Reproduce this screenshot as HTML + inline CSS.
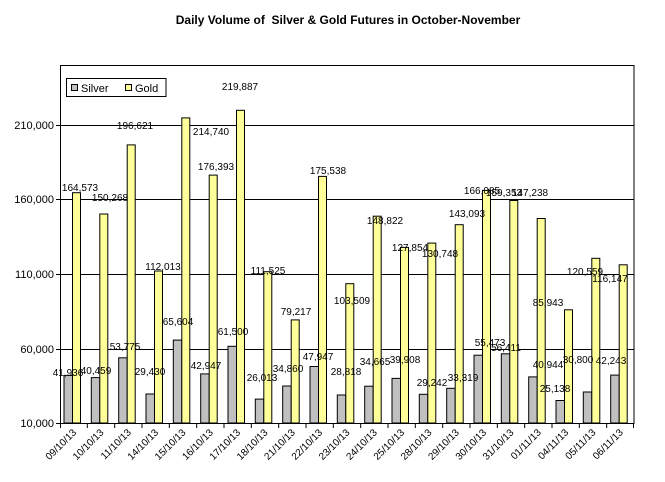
<!DOCTYPE html>
<html><head><meta charset="utf-8"><style>
html,body{margin:0;padding:0;background:#fff;}
svg{display:block;font-family:"Liberation Sans",Arial,sans-serif;}
</style></head><body>
<svg width="665" height="482" viewBox="0 0 665 482" xmlns="http://www.w3.org/2000/svg">
<rect width="665" height="482" fill="#fff"/>
<text x="348" y="24" font-size="12" font-weight="bold" text-anchor="middle" xml:space="preserve">Daily Volume of  Silver &amp; Gold Futures in October-November</text>
<g stroke="#000" stroke-width="1">
<line x1="60" y1="125.5" x2="634" y2="125.5"/>
<line x1="60" y1="199.5" x2="634" y2="199.5"/>
<line x1="60" y1="274.5" x2="634" y2="274.5"/>
<line x1="60" y1="349.5" x2="634" y2="349.5"/>
<rect x="60.5" y="65.5" width="573.5" height="358" fill="none"/>
</g>
<g stroke="#000" stroke-width="1">
<rect x="64" y="375.4" width="8.5" height="47.6" fill="#c0c0c0"/><rect x="72.5" y="192.7" width="8" height="230.3" fill="#ffff99"/>
<rect x="91.3" y="377.6" width="8.5" height="45.4" fill="#c0c0c0"/><rect x="99.8" y="214" width="8" height="209" fill="#ffff99"/>
<rect x="118.7" y="357.8" width="8.5" height="65.2" fill="#c0c0c0"/><rect x="127.2" y="144.9" width="8" height="278.1" fill="#ffff99"/>
<rect x="146" y="394" width="8.5" height="29" fill="#c0c0c0"/><rect x="154.5" y="271" width="8" height="152" fill="#ffff99"/>
<rect x="173.3" y="340.1" width="8.5" height="82.9" fill="#c0c0c0"/><rect x="181.8" y="117.9" width="8" height="305.1" fill="#ffff99"/>
<rect x="200.7" y="373.9" width="8.5" height="49.1" fill="#c0c0c0"/><rect x="209.2" y="175.1" width="8" height="247.9" fill="#ffff99"/>
<rect x="228" y="346.3" width="8.5" height="76.7" fill="#c0c0c0"/><rect x="236.5" y="110.3" width="8" height="312.7" fill="#ffff99"/>
<rect x="255.3" y="399.1" width="8.5" height="23.9" fill="#c0c0c0"/><rect x="263.8" y="271.7" width="8" height="151.3" fill="#ffff99"/>
<rect x="282.7" y="386" width="8.5" height="37" fill="#c0c0c0"/><rect x="291.2" y="319.9" width="8" height="103.1" fill="#ffff99"/>
<rect x="310" y="366.5" width="8.5" height="56.5" fill="#c0c0c0"/><rect x="318.5" y="176.4" width="8" height="246.6" fill="#ffff99"/>
<rect x="337.3" y="395" width="8.5" height="28" fill="#c0c0c0"/><rect x="345.8" y="283.7" width="8" height="139.3" fill="#ffff99"/>
<rect x="364.7" y="386.2" width="8.5" height="36.8" fill="#c0c0c0"/><rect x="373.2" y="216.2" width="8" height="206.8" fill="#ffff99"/>
<rect x="392" y="378.4" width="8.5" height="44.6" fill="#c0c0c0"/><rect x="400.5" y="247.4" width="8" height="175.6" fill="#ffff99"/>
<rect x="419.3" y="394.3" width="8.5" height="28.7" fill="#c0c0c0"/><rect x="427.8" y="243.1" width="8" height="179.9" fill="#ffff99"/>
<rect x="446.7" y="388.3" width="8.5" height="34.7" fill="#c0c0c0"/><rect x="455.2" y="224.7" width="8" height="198.3" fill="#ffff99"/>
<rect x="474" y="355.2" width="8.5" height="67.8" fill="#c0c0c0"/><rect x="482.5" y="190.4" width="8" height="232.6" fill="#ffff99"/>
<rect x="501.3" y="353.8" width="8.5" height="69.2" fill="#c0c0c0"/><rect x="509.8" y="200.5" width="8" height="222.5" fill="#ffff99"/>
<rect x="528.7" y="376.9" width="8.5" height="46.1" fill="#c0c0c0"/><rect x="537.2" y="218.5" width="8" height="204.5" fill="#ffff99"/>
<rect x="556" y="400.5" width="8.5" height="22.5" fill="#c0c0c0"/><rect x="564.5" y="309.8" width="8" height="113.2" fill="#ffff99"/>
<rect x="583.3" y="392" width="8.5" height="31" fill="#c0c0c0"/><rect x="591.8" y="258.3" width="8" height="164.7" fill="#ffff99"/>
<rect x="610.7" y="375.1" width="8.5" height="47.9" fill="#c0c0c0"/><rect x="619.2" y="264.8" width="8" height="158.2" fill="#ffff99"/>
</g>
<g stroke="#000">
<line x1="56" y1="423.5" x2="60" y2="423.5"/><line x1="56" y1="349.5" x2="60" y2="349.5"/><line x1="56" y1="274.5" x2="60" y2="274.5"/><line x1="56" y1="199.5" x2="60" y2="199.5"/><line x1="56" y1="125.5" x2="60" y2="125.5"/>
<path d="M60.5 423v5M87.3 423v5M114.7 423v5M142 423v5M169.3 423v5M196.7 423v5M224 423v5M251.3 423v5M278.7 423v5M306 423v5M333.3 423v5M360.7 423v5M388 423v5M415.3 423v5M442.7 423v5M470 423v5M497.3 423v5M524.7 423v5M552 423v5M579.3 423v5M606.7 423v5M633.5 423v5"/>
</g>
<g font-size="11" text-anchor="end">
<text x="54" y="427">10,000</text><text x="54" y="353">60,000</text><text x="54" y="278">110,000</text><text x="54" y="203">160,000</text><text x="54" y="129">210,000</text>
</g>
<g font-size="10" text-anchor="end">
<text transform="translate(77,433) rotate(-45)">09/10/13</text>
<text transform="translate(104.3,433) rotate(-45)">10/10/13</text>
<text transform="translate(131.7,433) rotate(-45)">11/10/13</text>
<text transform="translate(159,433) rotate(-45)">14/10/13</text>
<text transform="translate(186.3,433) rotate(-45)">15/10/13</text>
<text transform="translate(213.7,433) rotate(-45)">16/10/13</text>
<text transform="translate(241,433) rotate(-45)">17/10/13</text>
<text transform="translate(268.3,433) rotate(-45)">18/10/13</text>
<text transform="translate(295.7,433) rotate(-45)">21/10/13</text>
<text transform="translate(323,433) rotate(-45)">22/10/13</text>
<text transform="translate(350.3,433) rotate(-45)">23/10/13</text>
<text transform="translate(377.7,433) rotate(-45)">24/10/13</text>
<text transform="translate(405,433) rotate(-45)">25/10/13</text>
<text transform="translate(432.3,433) rotate(-45)">28/10/13</text>
<text transform="translate(459.7,433) rotate(-45)">29/10/13</text>
<text transform="translate(487,433) rotate(-45)">30/10/13</text>
<text transform="translate(514.3,433) rotate(-45)">31/10/13</text>
<text transform="translate(541.7,433) rotate(-45)">01/11/13</text>
<text transform="translate(569,433) rotate(-45)">04/11/13</text>
<text transform="translate(596.3,433) rotate(-45)">05/11/13</text>
<text transform="translate(623.7,433) rotate(-45)">06/11/13</text>
</g>
<g font-size="10" text-anchor="middle">
<text x="80" y="191">164,573</text><text x="110" y="201">150,268</text><text x="135" y="129">196,621</text><text x="163" y="270">112,013</text>
<text x="211" y="135">214,740</text><text x="216" y="170">176,393</text><text x="240" y="90">219,887</text><text x="268" y="274">111,525</text>
<text x="296" y="315">79,217</text><text x="328" y="174">175,538</text><text x="352" y="304">103,509</text><text x="385" y="224">148,822</text>
<text x="410" y="251">127,854</text><text x="440" y="257">130,748</text><text x="467" y="217">143,093</text><text x="482" y="194">166,085</text>
<text x="504" y="196">159,353</text><text x="530" y="196">147,238</text><text x="548" y="306">85,943</text><text x="585" y="275">120,559</text><text x="610" y="282">116,147</text>
<text x="68" y="376">41,936</text><text x="96" y="374">40,459</text><text x="125" y="350">53,775</text><text x="150" y="375">29,430</text>
<text x="178" y="325">65,604</text><text x="206" y="369">42,947</text><text x="233" y="335">61,500</text><text x="262" y="381">26,013</text>
<text x="288" y="372">34,860</text><text x="318" y="360">47,947</text><text x="346" y="375">28,818</text><text x="375" y="365">34,665</text>
<text x="405" y="363">39,908</text><text x="432" y="386">29,242</text><text x="463" y="381">33,319</text><text x="490" y="346">55,473</text>
<text x="506" y="351">56,411</text><text x="548" y="368">40,944</text><text x="555" y="392">25,138</text><text x="578" y="363">30,800</text><text x="611" y="364">42,243</text>
</g>
<rect x="66.5" y="78.5" width="99.5" height="18" fill="#fff" stroke="#000"/>
<rect x="71.5" y="84.5" width="6" height="6" fill="#c0c0c0" stroke="#000"/>
<text x="81" y="92" font-size="11">Silver</text>
<rect x="125.5" y="84.5" width="6" height="6" fill="#ffff99" stroke="#000"/>
<text x="135" y="92" font-size="11">Gold</text>
</svg>
</body></html>
